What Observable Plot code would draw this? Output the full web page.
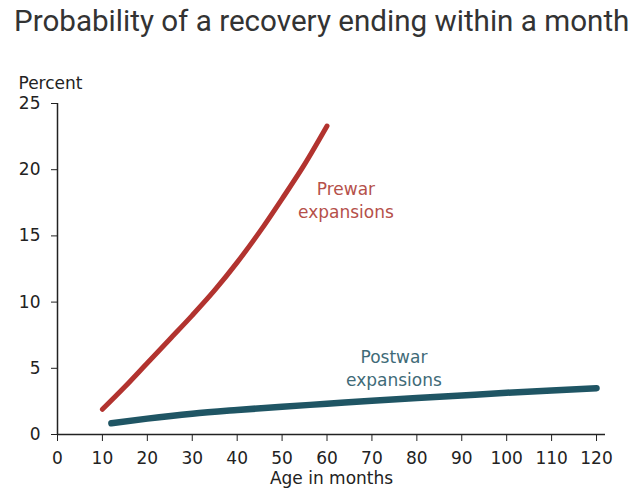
<!DOCTYPE html>
<html>
<head>
<meta charset="utf-8">
<script src="https://cdn.jsdelivr.net/npm/d3@7"></script>
<script src="https://cdn.jsdelivr.net/npm/@observablehq/plot@0.6"></script>
<style>
  html, body { margin: 0; padding: 0; background: #fff; width: 640px; height: 493px; overflow: hidden; }
  #title { position: absolute; left: 14px; top: 4px; font-family: Roboto, sans-serif; font-size: 29.6px; color: #333; white-space: nowrap; line-height: 34px; }
  #chart { position: absolute; left: 0; top: 50px; }
</style>
</head>
<body>
<div id="title">Probability of a recovery ending within a month</div>
<div id="chart"></div>
<script>
const prewarAge = [10, 15, 20, 25, 30, 35, 40, 45, 50, 55, 60];
const prewarPct = [1.9, 3.6, 5.4, 7.2, 9.0, 10.9, 13.0, 15.3, 17.8, 20.4, 23.3];
const postwarAge = [12, 20, 30, 40, 50, 60, 70, 80, 90, 100, 110, 120];
const postwarPct = [0.85, 1.2, 1.57, 1.85, 2.1, 2.32, 2.55, 2.75, 2.95, 3.15, 3.33, 3.5];
const xTicks = [0, 10, 20, 30, 40, 50, 60, 70, 80, 90, 100, 110, 120];
const yTicks = [0, 5, 10, 15, 20, 25];
const labels = [
  {age: 64.2, pct: 17.8, text: "Prewar\nexpansions", color: "#b5504a"},
  {age: 74.9, pct: 5.1, text: "Postwar\nexpansions", color: "#3f6b78"}
];

const prewar = prewarAge.map((a, i) => ({age: a, pct: prewarPct[i]}));
const postwar = postwarAge.map((a, i) => ({age: a, pct: postwarPct[i]}));

const chart = Plot.plot({
  width: 640,
  height: 443,
  marginLeft: 57,
  marginRight: 35,
  marginTop: 53,
  marginBottom: 59,
  style: {fontFamily: "'DejaVu Sans', Verdana, sans-serif", fontSize: "17px", color: "#222", background: "#fff"},
  x: {domain: [0, 122]},
  y: {domain: [0, 25]},
  marks: [
    Plot.axisY({ticks: yTicks, tickSize: 6, tickPadding: 11, label: null, stroke: "#222"}),
    Plot.axisX({ticks: xTicks, tickSize: 7, tickPadding: 10, label: null, stroke: "#222"}),
    Plot.ruleY([0], {stroke: "#222", strokeWidth: 1.5}),
    Plot.ruleX([0], {y1: 0, y2: 25, stroke: "#222", strokeWidth: 1.5}),
    Plot.line(postwar, {x: "age", y: "pct", stroke: "#1f5564", strokeWidth: 6.5, curve: "monotone-x"}),
    Plot.line(prewar, {x: "age", y: "pct", stroke: "#b2332f", strokeWidth: 5, curve: "monotone-x"}),
    Plot.text(labels, {x: "age", y: "pct", text: "text", fill: "color", lineHeight: 1.4, textAnchor: "middle"}),
    Plot.text(["Percent"], {frameAnchor: "top-left", dx: -39, dy: -20, textAnchor: "start", lineAnchor: "middle", fill: "#222"}),
    Plot.text(["Age in months"], {frameAnchor: "bottom", dy: 44, lineAnchor: "middle", fill: "#222"})
  ]
});
document.getElementById("chart").appendChild(chart);
</script>
</body>
</html>
